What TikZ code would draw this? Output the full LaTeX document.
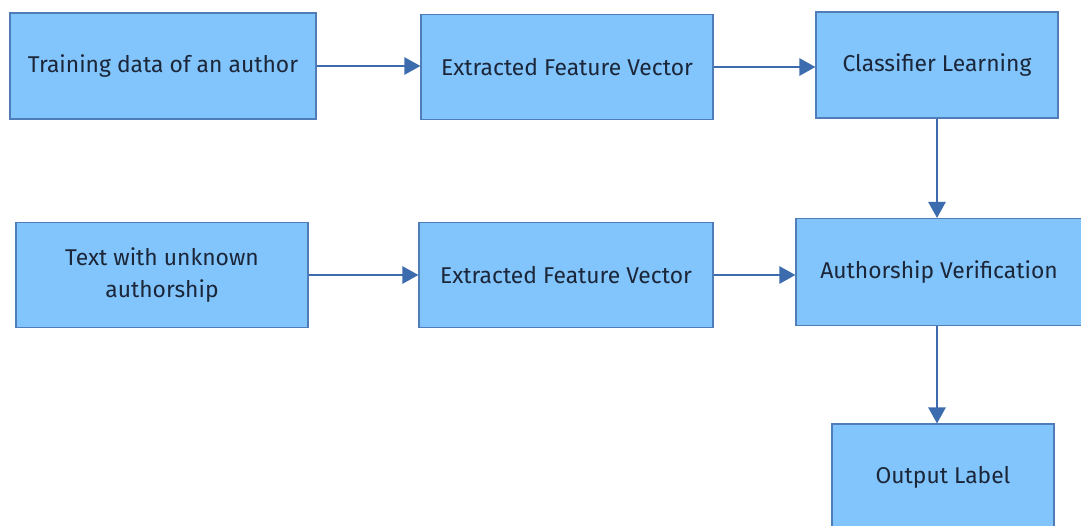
\documentclass[tikz,border=0pt]{standalone}
\usepackage{fontspec}
\setmainfont{Fira Sans}
\usepackage{tikz}
\usetikzlibrary{arrows.meta, positioning}
\definecolor{boxfill}{HTML}{82C4FC}
\definecolor{boxedge}{HTML}{4F7DB8}
\definecolor{flowblue}{HTML}{3C6CAE}
\definecolor{inkblue}{HTML}{1B2638}
\tikzset{
  stage/.style = {draw=boxedge, fill=boxfill, line width=1pt, text=inkblue,
                  align=center, inner sep=0pt,
                  font=\fontsize{19.5}{27}\selectfont},
  flow/.style  = {-{Triangle[length=4.8mm, width=5.2mm]}, flowblue, line width=1.4pt},
}
\begin{document}
\begin{tikzpicture}[x=0.03cm, y=-0.03cm]
  \useasboundingbox (0,0) rectangle (1081,525);
  \clip (0,0) rectangle (1081,525);
  \fill[white] (0,0) rectangle (1081,525);
  % top row
  \node[stage, minimum width=306*0.03cm, minimum height=106*0.03cm] (train) at (163,66) {Training data of an author};
  \node[stage, minimum width=292*0.03cm, minimum height=105*0.03cm] (featA) at (567,67) {Extracted Feature Vector};
  \node[stage, minimum width=242*0.03cm, minimum height=106*0.03cm] (classify) at (937,65) {Classifier Learning};
  % bottom row
  \node[stage, minimum width=292*0.03cm, minimum height=105*0.03cm] (unknown) at (162,275) {Text with unknown\\authorship};
  \node[stage, minimum width=294*0.03cm, minimum height=105*0.03cm] (featB) at (566,275) {Extracted Feature Vector};
  \node[stage, minimum width=286*0.03cm, minimum height=107*0.03cm] (verify) at (939,272) {Authorship Verification};
  \node[stage, minimum width=222*0.03cm, minimum height=106*0.03cm] (output) at (943,477) {Output Label};
  % connectors
  \draw[flow] (train.east) -- (train.east -| featA.west);
  \draw[flow] (featA.east) -- (featA.east -| classify.west);
  \draw[flow] (classify.south) -- (verify.north -| classify.south);
  \draw[flow] (unknown.east) -- (unknown.east -| featB.west);
  \draw[flow] (featB.east) -- (featB.east -| verify.west);
  \draw[flow] (verify.south -| classify.south) -- (output.north -| classify.south);
\end{tikzpicture}
\end{document}
